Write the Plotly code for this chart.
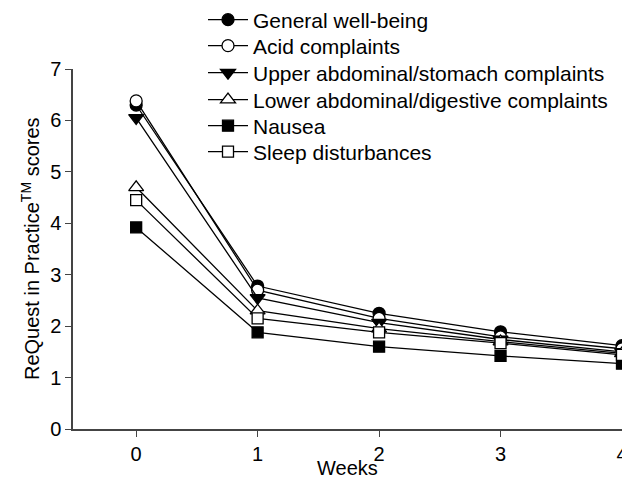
import plotly.graph_objects as go

weeks = [0, 1, 2, 3, 4]
series_names = [
    "General well-being",
    "Acid complaints",
    "Upper abdominal/stomach complaints",
    "Lower abdominal/digestive complaints",
    "Nausea",
    "Sleep disturbances",
]
general = [6.30, 2.78, 2.25, 1.89, 1.62]
acid = [6.38, 2.70, 2.15, 1.79, 1.56]
upper = [6.05, 2.55, 2.07, 1.74, 1.50]
lower = [4.70, 2.30, 1.95, 1.70, 1.47]
nausea = [3.92, 1.88, 1.60, 1.42, 1.27]
sleep = [4.45, 2.15, 1.88, 1.67, 1.44]
x_title = "Weeks"
y_title = "ReQuest in Practice<sup>TM</sup> scores"

values = [general, acid, upper, lower, nausea, sleep]
symbols = ["circle", "circle", "triangle-down", "triangle-up", "square", "square"]
fills = ["black", "white", "black", "white", "black", "white"]
sizes = [12, 12, 13, 13, 11, 11]

W, H = 622, 480  # page adds an 8px body margin around the figure
ML, MR, MT, MB = 65, 8, 61, 59
PW, PH = W - ML - MR, H - MT - MB
legend_ids = ["legend", "legend2", "legend3", "legend4", "legend5", "legend6"]
row_centers = [12, 38, 65, 92, 118, 144]  # px from figure top

fig = go.Figure()
for name, vals, sym, fill, sz, lid in zip(series_names, values, symbols, fills, sizes, legend_ids):
    fig.add_trace(go.Scatter(
        x=weeks, y=vals, name=name, mode="lines+markers",
        line=dict(color="black", width=1.3),
        marker=dict(symbol=sym, size=sz, color=fill,
                    line=dict(color="black", width=1.3)),
        cliponaxis=False, legend=lid,
    ))

font_family = "Liberation Sans, Arial, sans-serif"
layout_legends = {}
for lid, yc in zip(legend_ids, row_centers):
    layout_legends[lid] = dict(
        x=195 / W, y=1 - yc / H, xref="container", yref="container",
        xanchor="left", yanchor="middle", bgcolor="rgba(0,0,0,0)",
        font=dict(size=21), itemwidth=40,
    )

fig.update_layout(
    width=W, height=H,
    margin=dict(l=ML, r=MR, t=MT, b=MB, autoexpand=False),
    plot_bgcolor="white", paper_bgcolor="white",
    font=dict(family=font_family, size=20, color="black"),
    showlegend=True,
    xaxis=dict(range=[-0.52, 4.0], tickvals=weeks, ticks="outside", ticklen=6,
               showline=True, linecolor="#444", linewidth=1.5, showgrid=False,
               zeroline=False, ticklabeloverflow="allow", automargin=False),
    yaxis=dict(range=[0, 7], dtick=1, ticks="outside", ticklen=6,
               showline=True, linecolor="#444", linewidth=1.5, showgrid=False,
               zeroline=False, automargin=False),
    annotations=[
        dict(text=x_title, xref="paper", yref="paper", x=0.5, y=-39 / PH,
             xanchor="center", yanchor="middle", showarrow=False,
             font=dict(size=20)),
        dict(text=y_title, xref="paper", yref="paper", x=(22 - ML) / PW, y=0.5,
             xanchor="center", yanchor="middle", showarrow=False, textangle=-90,
             font=dict(size=20)),
    ],
    **layout_legends,
)
fig.write_html("out.html")
